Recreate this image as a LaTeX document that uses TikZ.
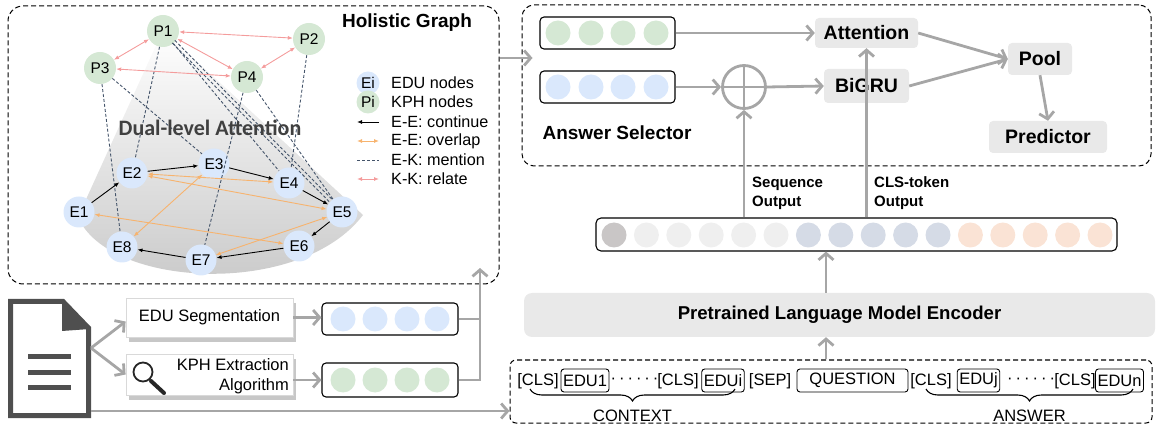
\documentclass[tikz,border=0pt]{standalone}
\usepackage{fontspec}
\setmainfont{Liberation Sans}
\newfontfamily\carlito{Carlito}
\usetikzlibrary{arrows.meta,decorations.pathreplacing,shapes.geometric,calc,shadows}
\newcommand\myfs[2]{\fontsize{#1}{#2}\selectfont}
\newcommand\mydots{·\kern3pt·\kern3pt·\kern3pt·\kern3pt·\kern3pt·}
\definecolor{agray}{HTML}{A6A6A6}
\definecolor{boxgray}{HTML}{E9E9E9}
\definecolor{eblue}{HTML}{DAE8FC}
\definecolor{pgreen}{HTML}{D5E8D4}
\definecolor{kpink}{HTML}{F49C9C}
\definecolor{eorange}{HTML}{F7B36E}
\definecolor{mblue}{HTML}{44546A}
\definecolor{docgray}{HTML}{4F4F4F}
\definecolor{dualgray}{HTML}{404040}
\definecolor{tokA}{HTML}{C9C6C6}
\definecolor{tokB}{HTML}{EFEFEF}
\definecolor{tokC}{HTML}{D5DBE6}
\definecolor{tokD}{HTML}{FAE3D5}
\tikzset{
 enode/.style={circle, fill=eblue, minimum size=31pt, inner sep=0pt, font=\myfs{15.5}{18}},
 pnode/.style={circle, fill=pgreen, minimum size=32pt, inner sep=0pt, font=\myfs{15.5}{18}},
 cont/.style={draw=black, line width=0.9pt, -{Latex[length=5pt,width=4pt]}},
 overlap/.style={draw=eorange, line width=0.9pt, {Latex[length=5pt,width=4pt]}-{Latex[length=5pt,width=4pt]}},
 relate/.style={draw=kpink, line width=0.9pt, {Latex[length=5pt,width=4pt]}-{Latex[length=5pt,width=4pt]}},
 mention/.style={draw=mblue, line width=0.9pt, dash pattern=on 3pt off 2pt},
 garrow/.style={draw=agray, line width=2.8pt, -{Straight Barb[length=6.5pt,width=15pt]}},
 gline/.style={draw=agray, line width=2.8pt},
 vecbox/.style={draw=black, line width=1.1pt, rounded corners=4pt, inner sep=0pt},
 vcirc/.style={circle, inner sep=0pt, minimum size=25pt},
 gbox/.style={fill=boxgray, rounded corners=4pt, inner sep=0pt, font=\myfs{19.5}{22}\bfseries},
 dbox/.style={draw, line width=1pt, dash pattern=on 5pt off 3pt},
 tok/.style={inner sep=0pt, font=\myfs{16.5}{19}},
 tokbox/.style={draw, rounded corners=3pt, inner xsep=2pt, inner ysep=0pt, minimum height=23pt, line width=0.9pt, font=\myfs{16.5}{19}},
 wbox/.style={draw=black!15, fill=white, line width=0.8pt, inner sep=0pt,
   drop shadow={shadow xshift=3pt, shadow yshift=-5pt, fill=black!22, opacity=1}},
 legtxt/.style={anchor=west, inner sep=0pt, font=\myfs{16.2}{18}},
}
\begin{document}
\begin{tikzpicture}[x=1pt,y=-1pt]
\useasboundingbox (0,0) rectangle (1156,427);

% ---------- Holistic graph ----------
\shade[top color=white, bottom color=black!22] (163,30) -- (78,217) .. controls (108,288) and (300,298) .. (363,215) -- cycle;
\node[dbox, rounded corners=15pt, minimum width=491pt, minimum height=278pt] (holo) at (253.5,145) {};
\node[font=\myfs{19}{22}\bfseries] (hgtitle) at (407,23) {Holistic Graph};

\node[pnode] (P1) at (163,31) {P1};
\node[pnode] (P2) at (309,39) {P2};
\node[pnode] (P3) at (100,68) {P3};
\node[pnode] (P4) at (247,77) {P4};
\node[enode] (E1) at (79,212) {E1};
\node[enode] (E2) at (132,173) {E2};
\node[enode] (E3) at (214,164) {E3};
\node[enode] (E4) at (289,183) {E4};
\node[enode] (E5) at (342,212) {E5};
\node[enode] (E6) at (299,246) {E6};
\node[enode] (E7) at (201,260) {E7};
\node[enode] (E8) at (122,247) {E8};

% mention
\draw[mention] (P1) -- (E2);
\draw[mention] (P3) -- (E8);
\draw[mention] (P3) -- (E3);
\draw[mention] (P1) -- (E4);
\draw[mention, shorten <=15pt, shorten >=15pt] ($(P1)!1.8pt!90:(E5)$) -- ($(E5)!1.8pt!-90:(P1)$);
\draw[mention, shorten <=15pt, shorten >=15pt] ($(P1)!1.8pt!-90:(E5)$) -- ($(E5)!1.8pt!90:(P1)$);
\draw[mention] (P4) -- (E5);
\draw[mention] (P4) -- (E7);
\draw[mention] (P2) -- (E4);

\node[font=\myfs{22}{24}\carlito\bfseries, text=dualgray] (dual) at (210,128) {Dual-level Attention};

% overlap
\draw[overlap] (E2) -- (E4);
\draw[overlap] (E2) -- (E5);
\draw[overlap] (E1) -- (E6);
\draw[overlap] (E3) -- (E8);
\draw[overlap] (E5) -- (E7);
% continue
\draw[cont] (E1) -- (E2);
\draw[cont] (E2) -- (E3);
\draw[cont] (E3) -- (E4);
\draw[cont] (E4) -- (E5);
\draw[cont] (E5) -- (E6);
\draw[cont] (E6) -- (E7);
\draw[cont] (E7) -- (E8);
% relate
\draw[relate] (P1) -- (P2);
\draw[relate] (P1) -- (P3);
\draw[relate] (P1) -- (P4);
\draw[relate] (P3) -- (P4);
\draw[relate] (P2) -- (P4);

% legend
\node[enode, minimum size=23pt] (lgE) at (368,83) {Ei};
\node[pnode, minimum size=23pt] (lgP) at (368,102) {Pi};
\node[legtxt] (lgt1) at (391,83) {EDU nodes};
\node[legtxt] (lgt2) at (391,102) {KPH nodes};
\node[legtxt] (lgt3) at (391,122) {E-E: continue};
\node[legtxt] (lgt4) at (391,141) {E-E: overlap};
\node[legtxt] (lgt5) at (391,160) {E-K: mention};
\node[legtxt] (lgt6) at (391,179) {K-K: relate};
\coordinate (la1) at (379,122); \coordinate (lb1) at (357,122);
\coordinate (la2) at (357,141); \coordinate (lb2) at (379,141);
\coordinate (la3) at (357,160); \coordinate (lb3) at (379,160);
\coordinate (la4) at (357,179); \coordinate (lb4) at (379,179);
\draw[cont] (la1) -- (lb1);
\draw[overlap] (la2) -- (lb2);
\draw[mention] (la3) -- (lb3);
\draw[relate] (la4) -- (lb4);

% ---------- Answer selector ----------
\node[dbox, rounded corners=12pt, minimum width=629pt, minimum height=161pt] (ans) at (836.5,85.5) {};
\node[vecbox, minimum width=135pt, minimum height=32pt] (agv) at (607.5,33) {};
\node[vecbox, minimum width=135pt, minimum height=32pt] (abv) at (607.5,87) {};
\foreach \i/\x in {1/558,2/591,3/623,4/656}{
  \node[vcirc, fill=pgreen] (ag\i) at (\x,33) {};
  \node[vcirc, fill=eblue] (ab\i) at (\x,87) {};
}
\node[circle, draw=agray, line width=2.8pt, minimum size=43pt, inner sep=0pt] (op) at (744,87) {};
\draw[gline] (op.north) -- (op.south);
\draw[gline] (op.west) -- (op.east);
\node[gbox, minimum width=103pt, minimum height=30pt] (att) at (866.5,33) {Attention};
\node[gbox, minimum width=85pt, minimum height=34pt] (gru) at (866.5,86) {BiGRU};
\node[gbox, minimum width=64pt, minimum height=32pt] (pool) at (1040,59) {Pool};
\node[gbox, minimum width=118pt, minimum height=32pt] (pred) at (1048,137) {Predictor};
\node[font=\myfs{19}{22}\bfseries] (aslbl) at (617,133) {Answer Selector};

\draw[garrow] (agv.east) -- (att.west);
\draw[garrow] (abv.east) -- (op.west);
\draw[garrow] (op.east) -- (gru.west);
\draw[garrow] (att.east) -- (pool.west);
\draw[garrow] (gru.east) -- (pool.west);
\draw[garrow] (pool.south) -- (pred.north);

% ---------- token bar ----------
\node[vecbox, rounded corners=5pt, minimum width=521pt, minimum height=33pt] (bar) at (856.5,234.5) {};
\foreach \k/\c in {0/tokA,1/tokB,2/tokB,3/tokB,4/tokB,5/tokB,6/tokC,7/tokC,8/tokC,9/tokC,10/tokC,11/tokD,12/tokD,13/tokD,14/tokD,15/tokD}{
  \node[vcirc, fill=\c] (t\k) at ({614+32.4*\k},235) {};
}
\draw[garrow] (op |- bar.north) -- (op.south);
\draw[garrow] (att |- bar.north) -- (att.south);
\node[anchor=west, align=left, inner sep=0pt, font=\myfs{15}{19}\bfseries] (seqlbl) at (752,193) {Sequence\\Output};
\node[anchor=west, align=left, inner sep=0pt, font=\myfs{15}{19}\bfseries] (clslbl) at (874,193) {CLS-token\\Output};

% ---------- encoder & input ----------
\node[gbox, rounded corners=8pt, minimum width=631pt, minimum height=44pt, font=\myfs{18.6}{21}\bfseries] (enc) at (839.5,315) {Pretrained Language Model Encoder};
\node[dbox, rounded corners=6pt, minimum width=642pt, minimum height=63pt] (inp) at (831,391.5) {};
\coordinate (encx) at (826,0);
\draw[garrow] (encx |- enc.north) -- (encx |- bar.south);
\draw[garrow] (encx |- inp.north) -- (encx |- enc.south);

\node[tok] (c1) at (538,381) {[CLS]};
\node[tokbox] (edu1) at (585,380.5) {EDU1};
\node[tok] (d1) at (634.5,381) {\mydots};
\node[tok] (c2) at (678,381) {[CLS]};
\node[tokbox] (edui) at (723,380.5) {EDUi};
\node[tok] (sep) at (770,381) {[SEP]};
\node[tokbox, minimum width=111pt] (ques) at (852.5,380.5) {QUESTION};
\node[tok] (c3) at (931,381) {[CLS]};
\node[tokbox] (eduj) at (978.5,380.5) {EDUj};
\node[tok] (d2) at (1031,381) {\mydots};
\node[tok] (c4) at (1075,381) {[CLS]};
\node[tokbox] (edun) at (1119.5,380.5) {EDUn};
\coordinate (brA1) at (530,389); \coordinate (brA2) at (735,389);
\coordinate (brB1) at (926,389); \coordinate (brB2) at (1133,389);
\draw[line width=1.1pt, decorate, decoration={brace, mirror, amplitude=12pt}] (brA1) -- (brA2);
\draw[line width=1.1pt, decorate, decoration={brace, mirror, amplitude=12pt}] (brB1) -- (brB2);
\node[tok] (ctx) at (632.5,416) {CONTEXT};
\node[tok] (answ) at (1029.5,416) {ANSWER};

% ---------- left bottom ----------
\node[minimum width=83pt, minimum height=119pt, inner sep=0pt] (doc) at (49.5,358.5) {};
\draw[docgray, line width=5pt, line join=miter] (10.5,301.5) -- (63,301.5) -- (88.5,328) -- (88.5,415.5) -- (10.5,415.5) -- cycle;
\fill[docgray] (62,300) -- (90,329) -- (62,331) -- cycle;
\draw[docgray, line width=5pt] (28,357) -- (71,357);
\draw[docgray, line width=5pt] (28,372) -- (71,372);
\draw[docgray, line width=5pt] (28,387) -- (71,387);

\node[wbox, minimum width=167pt, minimum height=39pt, font=\myfs{16.5}{18}] (edu) at (209.5,317.5) {EDU Segmentation};
\node[wbox, minimum width=167pt, minimum height=41pt] (kph) at (209.5,374.5) {};
\node[anchor=east, align=right, inner sep=0pt, font=\myfs{16.5}{20}] (kphtxt) at (289,376) {KPH Extraction\\Algorithm};
\draw[black!85, line width=1.8pt] (143,372) circle (9.5);
\draw[black!85, line width=4pt, line cap=round] (151,381) -- (164,393);

\node[vecbox, minimum width=136pt, minimum height=32pt] (lbv) at (390,319) {};
\node[vecbox, minimum width=136pt, minimum height=34pt] (lgv) at (390,380) {};
\foreach \i/\x in {1/343,2/375,3/407,4/437}{
  \node[vcirc, fill=eblue] (lb\i) at (\x,319) {};
  \node[vcirc, fill=pgreen] (lg\i) at (\x,380) {};
}

\coordinate (docr) at (91,348);
\coordinate (docb) at (91,411);
\draw[garrow] (docr) -- ([yshift=-4pt]edu.west);
\draw[garrow] (docr) -- (kph.west);
\draw[garrow] (docb) -- (inp.west |- docb);
\draw[garrow] (edu.east) -- (lbv.west |- edu.east);
\draw[garrow] (kph.east |- lgv.west) -- (lgv.west);
\coordinate (jn1) at (480,319);
\coordinate (jn2) at (480,380);
\coordinate (upt) at (480,268);
\draw[gline] (lbv.east) -- (jn1);
\draw[garrow] (lgv.east) -- (jn2) -- (upt);

\coordinate (hgout) at (500,58);
\draw[garrow] (hgout) -- ([xshift=11pt]ans.west |- hgout);
\end{tikzpicture}
\end{document}
